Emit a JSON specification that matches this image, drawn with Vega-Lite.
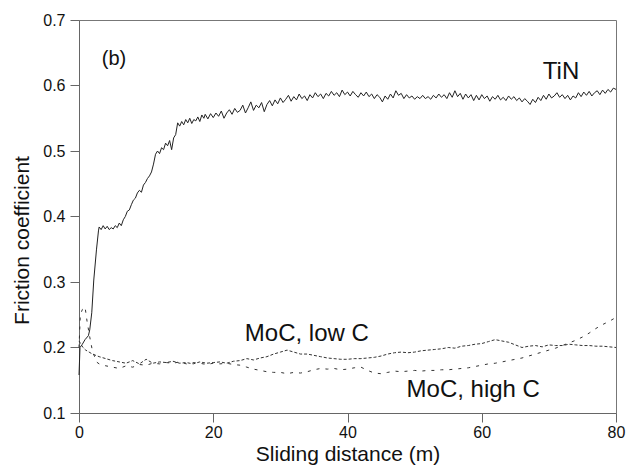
{
"$schema": "https://vega.github.io/schema/vega-lite/v6.json",
"width": 537, "height": 393,
"autosize": {"type": "none"},
"padding": {"left": 79, "top": 20, "right": 22, "bottom": 55},
"background": "white",
"config": {
  "font": "Liberation Sans",
  "view": {"stroke": "#777", "strokeWidth": 1},
  "axis": {"grid": false, "domainColor": "#666", "tickColor": "#666", "labelColor": "#111", "titleColor": "#111", "labelFontSize": 16, "titleFontSize": 21, "titleFontWeight": "normal", "tickSize": 9, "labelFlush": false, "labelFont": "Liberation Sans", "titleFont": "Liberation Sans"}
},
"encoding": {
  "x": {"field": "x", "type": "quantitative", "scale": {"domain": [0, 80], "nice": false, "zero": false},
        "axis": {"values": [0, 20, 40, 60, 80], "title": "Sliding distance (m)", "labelPadding": 2, "titleY": 30, "titleBaseline": "top"}},
  "y": {"field": "y", "type": "quantitative", "scale": {"domain": [0.1, 0.7], "nice": false, "zero": false},
        "axis": {"values": [0.1, 0.2, 0.3, 0.4, 0.5, 0.6, 0.7], "format": ".1f", "title": "Friction coefficient", "labelPadding": 5, "titleX": -51, "titleY": 220, "titleAngle": 270, "titleBaseline": "alphabetic", "titleAlign": "center"}}
},
"layer": [
  {
    "data": {"values": [
      {"x":0,"y":0.158},{"x":0.15,"y":0.2},{"x":0.5,"y":0.205},{"x":0.9,"y":0.212},{"x":1.4,"y":0.218},{"x":1.6,"y":0.227},{"x":1.9,"y":0.253},{"x":2.2,"y":0.303},{"x":2.6,"y":0.349},{"x":2.9,"y":0.378},
      {"x":3.0,"y":0.384},{"x":3.3,"y":0.38},{"x":3.6,"y":0.386},{"x":3.9,"y":0.381},{"x":4.2,"y":0.385},{"x":4.5,"y":0.38},{"x":4.8,"y":0.383},{"x":5.1,"y":0.381},{"x":5.4,"y":0.386},{"x":5.7,"y":0.383},
      {"x":6.0,"y":0.39},{"x":6.3,"y":0.386},{"x":6.6,"y":0.395},{"x":6.9,"y":0.4},{"x":7.2,"y":0.408},{"x":7.5,"y":0.41},{"x":7.8,"y":0.418},{"x":8.1,"y":0.425},{"x":8.4,"y":0.428},{"x":8.7,"y":0.436},
      {"x":9.0,"y":0.44},{"x":9.3,"y":0.437},{"x":9.6,"y":0.448},{"x":9.9,"y":0.452},{"x":10.2,"y":0.458},{"x":10.5,"y":0.462},{"x":10.8,"y":0.468},{"x":11.1,"y":0.48},{"x":11.4,"y":0.495},{"x":11.7,"y":0.5},
      {"x":12.0,"y":0.496},{"x":12.3,"y":0.505},{"x":12.6,"y":0.502},{"x":12.9,"y":0.512},{"x":13.2,"y":0.508},{"x":13.5,"y":0.516},{"x":13.8,"y":0.502},{"x":14.1,"y":0.52},{"x":14.4,"y":0.525},{"x":14.7,"y":0.543},
      {"x":15.0,"y":0.538},{"x":15.3,"y":0.545},{"x":15.6,"y":0.54},{"x":15.9,"y":0.548},{"x":16.2,"y":0.543},{"x":16.5,"y":0.55},{"x":16.8,"y":0.542},{"x":17.1,"y":0.548},{"x":17.4,"y":0.546},{"x":17.7,"y":0.552},
      {"x":18.0,"y":0.545},{"x":18.3,"y":0.555},{"x":18.6,"y":0.55},
      {"x":18.8,"y":0.556},{"x":19.2,"y":0.549},{"x":19.6,"y":0.557},{"x":20.0,"y":0.551},{"x":20.4,"y":0.558},{"x":20.8,"y":0.553},{"x":21.2,"y":0.561},{"x":21.6,"y":0.55},{"x":22.0,"y":0.558},{"x":22.4,"y":0.563},
      {"x":22.8,"y":0.556},{"x":23.2,"y":0.565},{"x":23.6,"y":0.559},{"x":24.0,"y":0.562},{"x":24.4,"y":0.57},{"x":24.8,"y":0.558},{"x":25.2,"y":0.566},{"x":25.6,"y":0.575},{"x":26.0,"y":0.562},{"x":26.4,"y":0.57},
      {"x":26.8,"y":0.566},{"x":27.2,"y":0.574},{"x":27.6,"y":0.56},{"x":28.0,"y":0.571},{"x":28.4,"y":0.577},{"x":28.8,"y":0.569},{"x":29.2,"y":0.578},{"x":29.6,"y":0.572},{"x":30.0,"y":0.581},{"x":30.4,"y":0.574},
      {"x":30.8,"y":0.579},{"x":31.2,"y":0.585},{"x":31.6,"y":0.576},{"x":32.0,"y":0.583},{"x":32.4,"y":0.578},{"x":32.8,"y":0.587},{"x":33.2,"y":0.58},{"x":33.6,"y":0.584},{"x":34.0,"y":0.577},{"x":34.4,"y":0.586},
      {"x":34.8,"y":0.581},{"x":35.2,"y":0.589},{"x":35.6,"y":0.583},{"x":36.0,"y":0.587},{"x":36.4,"y":0.58},{"x":36.8,"y":0.588},{"x":37.2,"y":0.584},{"x":37.6,"y":0.591},{"x":38.0,"y":0.585},{"x":38.4,"y":0.589},
      {"x":38.8,"y":0.583},{"x":39.2,"y":0.593},{"x":39.6,"y":0.586},{"x":40.0,"y":0.59},{"x":40.4,"y":0.584},{"x":40.8,"y":0.591},{"x":41.2,"y":0.586},{"x":41.6,"y":0.582},{"x":42.0,"y":0.589},{"x":42.4,"y":0.584},
      {"x":42.8,"y":0.59},{"x":43.2,"y":0.583},{"x":43.6,"y":0.587},{"x":44.0,"y":0.58},{"x":44.4,"y":0.586},{"x":44.8,"y":0.582},{"x":45.2,"y":0.575},{"x":45.6,"y":0.584},{"x":46.0,"y":0.579},{"x":46.4,"y":0.587},
      {"x":46.8,"y":0.581},{"x":47.2,"y":0.592},{"x":47.6,"y":0.585},{"x":48.0,"y":0.588},{"x":48.4,"y":0.58},{"x":48.8,"y":0.586},{"x":49.2,"y":0.581},{"x":49.6,"y":0.584},{"x":50.0,"y":0.579},{"x":50.4,"y":0.583},
      {"x":50.8,"y":0.58},{"x":51.2,"y":0.585},{"x":51.6,"y":0.58},{"x":52.0,"y":0.583},{"x":52.4,"y":0.579},{"x":52.8,"y":0.585},{"x":53.2,"y":0.581},{"x":53.6,"y":0.587},{"x":54.0,"y":0.582},{"x":54.4,"y":0.586},
      {"x":54.8,"y":0.58},{"x":55.2,"y":0.589},{"x":55.6,"y":0.582},{"x":56.0,"y":0.592},{"x":56.4,"y":0.583},{"x":56.8,"y":0.588},{"x":57.2,"y":0.579},{"x":57.6,"y":0.587},{"x":58.0,"y":0.581},{"x":58.4,"y":0.586},
      {"x":58.8,"y":0.577},{"x":59.2,"y":0.585},{"x":59.6,"y":0.578},{"x":60.0,"y":0.586},{"x":60.4,"y":0.58},{"x":60.8,"y":0.584},{"x":61.2,"y":0.576},{"x":61.6,"y":0.583},{"x":62.0,"y":0.579},{"x":62.4,"y":0.585},
      {"x":62.8,"y":0.578},{"x":63.2,"y":0.582},{"x":63.6,"y":0.577},{"x":64.0,"y":0.584},{"x":64.4,"y":0.579},{"x":64.8,"y":0.583},{"x":65.2,"y":0.577},{"x":65.6,"y":0.581},{"x":66.0,"y":0.575},{"x":66.4,"y":0.58},
      {"x":66.8,"y":0.576},{"x":67.2,"y":0.571},{"x":67.6,"y":0.579},{"x":68.0,"y":0.574},{"x":68.4,"y":0.582},{"x":68.8,"y":0.577},{"x":69.2,"y":0.585},{"x":69.6,"y":0.579},{"x":70.0,"y":0.587},{"x":70.4,"y":0.581},
      {"x":70.8,"y":0.584},{"x":71.2,"y":0.589},{"x":71.6,"y":0.582},{"x":72.0,"y":0.586},{"x":72.4,"y":0.58},{"x":72.8,"y":0.585},{"x":73.2,"y":0.578},{"x":73.6,"y":0.584},{"x":74.0,"y":0.581},{"x":74.4,"y":0.589},
      {"x":74.8,"y":0.583},{"x":75.2,"y":0.59},{"x":75.6,"y":0.585},{"x":76.0,"y":0.591},{"x":76.4,"y":0.584},{"x":76.8,"y":0.589},{"x":77.2,"y":0.592},{"x":77.6,"y":0.586},{"x":78.0,"y":0.593},{"x":78.4,"y":0.588},
      {"x":78.8,"y":0.594},{"x":79.2,"y":0.59},{"x":79.6,"y":0.596},{"x":80.0,"y":0.594}
    ]},
    "mark": {"type": "line", "color": "#222", "strokeWidth": 1}
  },
  {
    "data": {"values": [
      {"x":0,"y":0.21},{"x":0.3,"y":0.205},{"x":0.6,"y":0.2},{"x":1,"y":0.196},{"x":1.5,"y":0.193},{"x":2,"y":0.19},{"x":3,"y":0.186},{"x":4,"y":0.183},{"x":5,"y":0.18},{"x":6,"y":0.178},
      {"x":7,"y":0.176},{"x":8,"y":0.18},{"x":9,"y":0.175},{"x":10,"y":0.182},{"x":11,"y":0.176},{"x":12,"y":0.178},{"x":13,"y":0.177},{"x":14,"y":0.179},{"x":15,"y":0.176},{"x":16,"y":0.177},
      {"x":17,"y":0.175},{"x":18,"y":0.178},{"x":19,"y":0.176},{"x":20,"y":0.177},{"x":21,"y":0.178},{"x":22,"y":0.176},{"x":23,"y":0.179},{"x":24,"y":0.18},{"x":25,"y":0.183},{"x":26,"y":0.181},
      {"x":27,"y":0.184},{"x":28,"y":0.186},{"x":29,"y":0.19},{"x":30,"y":0.193},{"x":31,"y":0.196},{"x":32,"y":0.193},{"x":33,"y":0.19},{"x":34,"y":0.19},{"x":35,"y":0.188},{"x":36,"y":0.186},
      {"x":37,"y":0.184},{"x":38,"y":0.183},{"x":39,"y":0.182},{"x":40,"y":0.182},{"x":41,"y":0.183},{"x":42,"y":0.183},{"x":43,"y":0.184},{"x":44,"y":0.185},{"x":45,"y":0.187},{"x":46,"y":0.19},
      {"x":47,"y":0.192},{"x":48,"y":0.193},{"x":49,"y":0.192},{"x":50,"y":0.193},{"x":51,"y":0.195},{"x":52,"y":0.196},{"x":53,"y":0.197},{"x":54,"y":0.198},{"x":55,"y":0.2},{"x":56,"y":0.199},
      {"x":57,"y":0.202},{"x":58,"y":0.203},{"x":59,"y":0.205},{"x":60,"y":0.206},{"x":61,"y":0.209},{"x":62,"y":0.212},{"x":63,"y":0.21},{"x":64,"y":0.208},{"x":65,"y":0.204},{"x":66,"y":0.2},
      {"x":67,"y":0.202},{"x":68,"y":0.203},{"x":69,"y":0.201},{"x":70,"y":0.204},{"x":71,"y":0.203},{"x":72,"y":0.203},{"x":73,"y":0.205},{"x":74,"y":0.204},{"x":75,"y":0.203},{"x":76,"y":0.203},
      {"x":77,"y":0.202},{"x":78,"y":0.202},{"x":79,"y":0.201},{"x":80,"y":0.2}
    ]},
    "mark": {"type": "line", "color": "#333", "strokeWidth": 1, "strokeDash": [3, 2]}
  },
  {
    "data": {"values": [
      {"x":0,"y":0.2},{"x":0.2,"y":0.25},{"x":0.5,"y":0.258},{"x":0.9,"y":0.262},{"x":1.2,"y":0.24},{"x":1.6,"y":0.216},{"x":2,"y":0.195},{"x":2.6,"y":0.178},{"x":3,"y":0.175},{"x":4,"y":0.172},
      {"x":5,"y":0.17},{"x":6,"y":0.168},{"x":7,"y":0.172},{"x":8,"y":0.17},{"x":9,"y":0.174},{"x":10,"y":0.173},{"x":11,"y":0.176},{"x":12,"y":0.175},{"x":13,"y":0.177},{"x":14,"y":0.176},
      {"x":15,"y":0.178},{"x":16,"y":0.175},{"x":17,"y":0.177},{"x":18,"y":0.176},{"x":19,"y":0.174},{"x":20,"y":0.176},{"x":21,"y":0.175},{"x":22,"y":0.176},{"x":23,"y":0.174},{"x":24,"y":0.173},
      {"x":25,"y":0.17},{"x":26,"y":0.167},{"x":27,"y":0.165},{"x":28,"y":0.163},{"x":29,"y":0.162},{"x":30,"y":0.162},{"x":31,"y":0.16},{"x":32,"y":0.162},{"x":33,"y":0.161},{"x":34,"y":0.163},
      {"x":35,"y":0.166},{"x":36,"y":0.168},{"x":37,"y":0.167},{"x":38,"y":0.168},{"x":39,"y":0.166},{"x":40,"y":0.167},{"x":41,"y":0.169},{"x":42,"y":0.17},{"x":43,"y":0.165},{"x":44,"y":0.161},
      {"x":45,"y":0.16},{"x":46,"y":0.162},{"x":47,"y":0.164},{"x":48,"y":0.163},{"x":49,"y":0.164},{"x":50,"y":0.165},{"x":51,"y":0.164},{"x":52,"y":0.165},{"x":53,"y":0.165},{"x":54,"y":0.166},
      {"x":55,"y":0.166},{"x":56,"y":0.167},{"x":57,"y":0.168},{"x":58,"y":0.169},{"x":59,"y":0.171},{"x":60,"y":0.173},{"x":61,"y":0.175},{"x":62,"y":0.176},{"x":63,"y":0.178},{"x":64,"y":0.18},
      {"x":65,"y":0.182},{"x":66,"y":0.184},{"x":67,"y":0.187},{"x":68,"y":0.19},{"x":69,"y":0.193},{"x":70,"y":0.196},{"x":71,"y":0.199},{"x":72,"y":0.203},{"x":73,"y":0.207},{"x":74,"y":0.211},
      {"x":75,"y":0.216},{"x":76,"y":0.222},{"x":77,"y":0.229},{"x":78,"y":0.235},{"x":79,"y":0.24},{"x":80,"y":0.246}
    ]},
    "mark": {"type": "line", "color": "#333", "strokeWidth": 1, "strokeDash": [3, 6]}
  },
  {
    "data": {"values": [
      {"label": "TiN", "x": 69.1, "y": 0.62},
      {"label": "MoC, low C", "x": 24.7, "y": 0.22},
      {"label": "MoC, high C", "x": 48.8, "y": 0.135}
    ]},
    "mark": {"type": "text", "align": "left", "baseline": "middle", "fontSize": 24, "color": "#111", "font": "Liberation Sans"},
    "encoding": {"text": {"field": "label"}}
  },
  {
    "data": {"values": [{"label": "(b)", "x": 3.4, "y": 0.641}]},
    "mark": {"type": "text", "align": "left", "baseline": "middle", "fontSize": 20, "color": "#111", "font": "Liberation Sans"},
    "encoding": {"text": {"field": "label"}}
  }
]
}
